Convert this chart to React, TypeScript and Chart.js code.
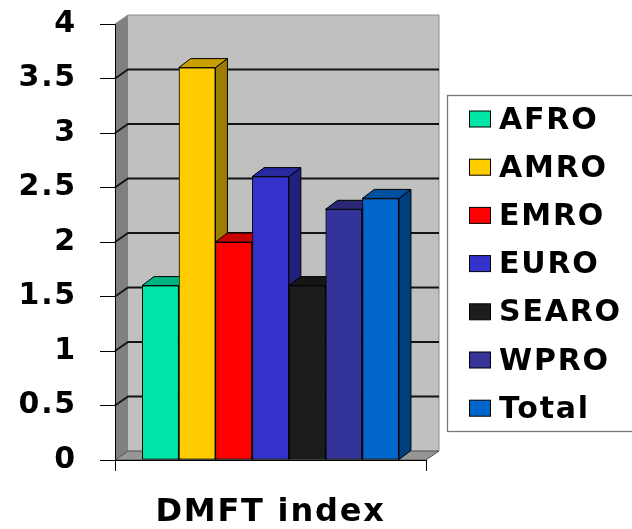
import React, { useEffect, useRef } from "react";
import { Chart, registerables } from "chart.js";

Chart.register(...registerables);

// Series: one bar per WHO region plus the overall total
const regions = ["AFRO", "AMRO", "EMRO", "EURO", "SEARO", "WPRO", "Total"];
const dmftValues = [1.6, 3.6, 2.0, 2.6, 1.6, 2.3, 2.4];
const regionColors = ["#00E6A8", "#FFCC00", "#FF0000", "#3333CC", "#1C1C1C", "#333399", "#0066CC"];
const categoryLabels = ["DMFT index"];
const yMin = 0;
const yMax = 4;
const yStep = 0.5;

const FONT = "'DejaVu Sans', Verdana, sans-serif";
const TEXT_SPACING = "1.8px";
const BAR_DEPTH = { dx: 12, dy: -9 };
const WALL_DEPTH = { dx: 13, dy: -9 };

function shade(hex: string, f: number): string {
  const n = parseInt(hex.slice(1), 16);
  const r = Math.round(((n >> 16) & 255) * f);
  const g = Math.round(((n >> 8) & 255) * f);
  const b = Math.round((n & 255) * f);
  return `rgb(${r},${g},${b})`;
}

function poly(ctx: CanvasRenderingContext2D, pts: number[][]) {
  ctx.beginPath();
  ctx.moveTo(pts[0][0], pts[0][1]);
  for (let i = 1; i < pts.length; i++) ctx.lineTo(pts[i][0], pts[i][1]);
  ctx.closePath();
}

// Grey side wall, back wall and floor with the value grid drawn on the walls
const wallsPlugin = {
  id: "walls3d",
  beforeDraw(chart: any) {
    const { ctx, chartArea: a, scales } = chart;
    (ctx as any).letterSpacing = TEXT_SPACING;
    const y = scales.y;
    const { dx, dy } = WALL_DEPTH;
    const L = a.left, R = a.right, T = a.top, B = a.bottom;
    ctx.save();
    // side wall
    ctx.fillStyle = "#808080";
    poly(ctx, [[L, B], [L, T], [L + dx, T + dy], [L + dx, B + dy]]);
    ctx.fill();
    // back wall
    ctx.fillStyle = "#C0C0C0";
    ctx.fillRect(L + dx, T + dy, R - L, B - T);
    ctx.strokeStyle = "#8a8a8a";
    ctx.lineWidth = 1;
    ctx.beginPath();
    ctx.moveTo(L, T);
    ctx.lineTo(L + dx, T + dy);
    ctx.lineTo(R + dx, T + dy);
    ctx.lineTo(R + dx, B + dy);
    ctx.stroke();
    // floor
    ctx.fillStyle = "#969696";
    poly(ctx, [[L, B], [R, B], [R + dx, B + dy], [L + dx, B + dy]]);
    ctx.fill();
    ctx.strokeStyle = "#505050";
    ctx.stroke();
    // grid lines on side and back walls
    ctx.strokeStyle = "#141414";
    ctx.lineWidth = 1.8;
    for (const t of y.ticks) {
      if (t.value <= yMin || t.value >= yMax) continue;
      const py = y.getPixelForValue(t.value);
      ctx.beginPath();
      ctx.moveTo(L, py);
      ctx.lineTo(L + dx, py + dy);
      ctx.lineTo(R + dx, py + dy);
      ctx.stroke();
    }
    ctx.restore();
  },
};

// Bars are repainted left to right so every right-hand box covers its neighbour's side
const bars3dPlugin = {
  id: "bars3d",
  afterDatasetsDraw(chart: any) {
    const { ctx, chartArea } = chart;
    const { dx, dy } = BAR_DEPTH;
    ctx.save();
    chart.data.datasets.forEach((ds: any, i: number) => {
      const meta = chart.getDatasetMeta(i);
      if (!meta.visible) return;
      meta.data.forEach((bar: any) => {
        bar.draw(ctx, chartArea);
        const { x, y, base, width } = bar.getProps(["x", "y", "base", "width"], true);
        const l = x - width / 2;
        const r = x + width / 2;
        const color = ds.backgroundColor as string;
        ctx.lineWidth = 1;
        ctx.strokeStyle = "#000";
        ctx.lineJoin = "round";
        ctx.fillStyle = shade(color, 0.62);
        poly(ctx, [[r, y], [r + dx, y + dy], [r + dx, base + dy], [r, base]]);
        ctx.fill();
        ctx.stroke();
        ctx.fillStyle = shade(color, 0.78);
        poly(ctx, [[l, y], [l + dx, y + dy], [r + dx, y + dy], [r, y]]);
        ctx.fill();
        ctx.stroke();
      });
    });
    ctx.restore();
  },
};

// Boxed legend on the right
const legendBoxPlugin = {
  id: "legendBox",
  afterDraw(chart: any) {
    const { ctx } = chart;
    const boxX = 447.5, boxY = 95.5, boxBottom = 431.5;
    ctx.save();
    ctx.fillStyle = "#ffffff";
    ctx.fillRect(boxX, boxY, chart.width - boxX + 10, boxBottom - boxY);
    ctx.strokeStyle = "#777777";
    ctx.lineWidth = 1.3;
    ctx.strokeRect(boxX, boxY, chart.width - boxX + 10, boxBottom - boxY);
    ctx.font = `bold 30px ${FONT}`;
    ctx.textAlign = "left";
    ctx.textBaseline = "alphabetic";
    chart.data.datasets.forEach((ds: any, i: number) => {
      const cy = 119 + i * 48.2;
      ctx.fillStyle = ds.backgroundColor;
      ctx.fillRect(469.5, cy - 8, 21, 16);
      ctx.strokeStyle = "#000";
      ctx.lineWidth = 1;
      ctx.strokeRect(469.5, cy - 8, 21, 16);
      ctx.fillStyle = "#000";
      ctx.fillText(ds.label, 499, cy + 9.5);
    });
    ctx.restore();
    (ctx as any).letterSpacing = "0px";
  },
};

export default function App() {
  const canvasRef = useRef<HTMLCanvasElement | null>(null);

  useEffect(() => {
    if (!canvasRef.current) return;
    const chart = new Chart(canvasRef.current, {
      type: "bar",
      data: {
        labels: categoryLabels,
        datasets: regions.map((name, i) => ({
          label: name,
          data: [dmftValues[i]],
          backgroundColor: regionColors[i],
          borderColor: "#000000",
          borderWidth: 1,
          borderSkipped: false,
        })),
      },
      options: {
        responsive: false,
        devicePixelRatio: 1,
        animation: false,
        layout: { padding: { top: 24, right: 206, bottom: 0, left: 0 } },
        plugins: {
          legend: { display: false },
          tooltip: { enabled: false },
        },
        datasets: {
          bar: { categoryPercentage: 0.826, barPercentage: 1 },
        },
        scales: {
          x: {
            grid: {
              display: true,
              drawOnChartArea: false,
              drawTicks: true,
              tickLength: 11,
              color: "#000",
              offset: true,
            },
            border: { display: true, color: "#000", width: 1 },
            ticks: { display: false },
            title: {
              display: true,
              text: categoryLabels[0],
              color: "#000",
              font: { family: FONT, size: 32, weight: "bold", lineHeight: 1 },
              padding: { top: 0, bottom: 0 },
            },
            afterFit: (axis: any) => {
              axis.height = 69;
            },
          },
          y: {
            min: yMin,
            max: yMax,
            grid: {
              display: true,
              drawOnChartArea: false,
              drawTicks: true,
              tickLength: 15,
              color: "#000",
            },
            border: { display: true, color: "#000", width: 1 },
            ticks: {
              stepSize: yStep,
              padding: 23,
              color: "#000",
              font: { family: FONT, size: 30, weight: "bold" },
              callback: (v: any) => String(v),
            },
            afterFit: (axis: any) => {
              axis.width = 115;
              axis.paddingTop = 0;
              axis.paddingBottom = 0;
            },
          },
        },
      },
      plugins: [wallsPlugin, bars3dPlugin, legendBoxPlugin],
    } as any);
    return () => chart.destroy();
  }, []);

  return (
    <div style={{ position: "absolute", left: 0, top: 0, width: 632, height: 529, background: "#fff" }}>
      <canvas ref={canvasRef} width={632} height={529} />
    </div>
  );
}
